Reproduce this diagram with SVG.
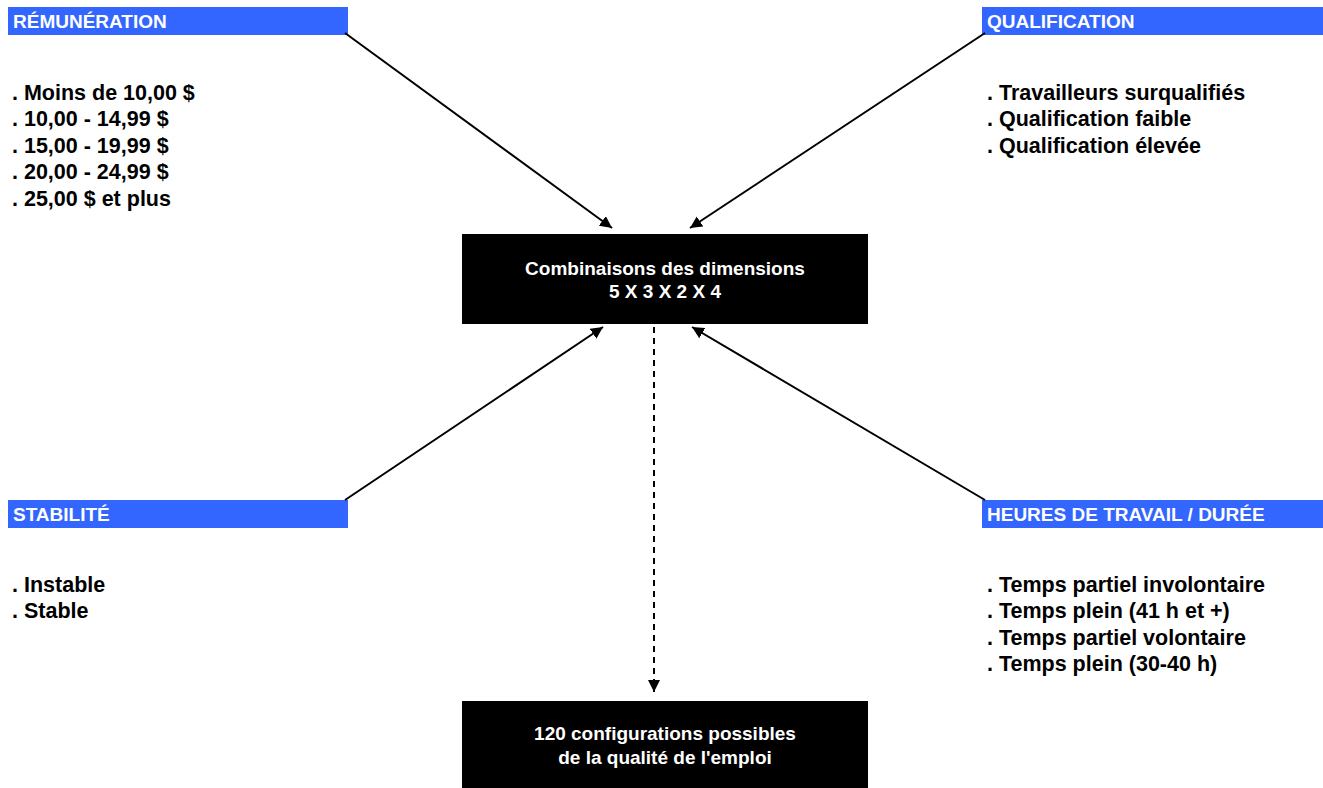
<svg xmlns="http://www.w3.org/2000/svg" width="1323" height="788" viewBox="0 0 1323 788">
<style>
.hdr{fill:#3366ff}
.ht{font-family:"Liberation Sans",Arial,sans-serif;font-weight:bold;font-size:19px;fill:#fff}
.it{font-family:"Liberation Sans",Arial,sans-serif;font-weight:bold;font-size:21.5px;fill:#000}
.bx{fill:#000}
.bt{font-family:"Liberation Sans",Arial,sans-serif;font-weight:bold;font-size:19px;fill:#fff;text-anchor:middle}
.ar{stroke:#000;stroke-width:2;fill:none}
</style>
<defs>
<marker id="ahb" viewBox="0 0 10 10" refX="10" refY="5" markerWidth="12" markerHeight="12" orient="auto" markerUnits="userSpaceOnUse">
<path d="M0,0 L10,5 L0,10 z" fill="#000"/>
</marker>
</defs>
<rect width="1323" height="788" fill="#fff"/>
<g id="remuneration">
<rect class="hdr" x="8" y="7" width="340" height="28"/>
<text class="ht" x="13" y="27.5">RÉMUNÉRATION</text>
<text class="it" x="12" y="99.5">. Moins de 10,00 $</text>
<text class="it" x="12" y="126">. 10,00 - 14,99 $</text>
<text class="it" x="12" y="152.5">. 15,00 - 19,99 $</text>
<text class="it" x="12" y="179">. 20,00 - 24,99 $</text>
<text class="it" x="12" y="205.5">. 25,00 $ et plus</text>
</g>
<g id="qualification">
<rect class="hdr" x="982" y="7" width="341" height="28"/>
<text class="ht" x="987" y="27.5">QUALIFICATION</text>
<text class="it" x="987" y="99.5">. Travailleurs surqualifiés</text>
<text class="it" x="987" y="126">. Qualification faible</text>
<text class="it" x="987" y="152.5">. Qualification élevée</text>
</g>
<g id="stabilite">
<rect class="hdr" x="8" y="500" width="340" height="28"/>
<text class="ht" x="13" y="521">STABILITÉ</text>
<text class="it" x="12" y="591.5">. Instable</text>
<text class="it" x="12" y="618">. Stable</text>
</g>
<g id="heures">
<rect class="hdr" x="982" y="500" width="341" height="28"/>
<text class="ht" x="987" y="521">HEURES DE TRAVAIL / DURÉE</text>
<text class="it" x="987" y="591.5">. Temps partiel involontaire</text>
<text class="it" x="987" y="618">. Temps plein (41 h et +)</text>
<text class="it" x="987" y="644.5">. Temps partiel volontaire</text>
<text class="it" x="987" y="671">. Temps plein (30-40 h)</text>
</g>
<g id="combinaisons">
<rect class="bx" x="462" y="234" width="406" height="90"/>
<text class="bt" x="665" y="275">Combinaisons des dimensions</text>
<text class="bt" x="665" y="298">5 X 3 X 2 X 4</text>
</g>
<g id="configurations">
<rect class="bx" x="462" y="701" width="406" height="87"/>
<text class="bt" x="665" y="740">120 configurations possibles</text>
<text class="bt" x="665" y="764">de la qualité de l'emploi</text>
</g>
<g id="connectors">
<line class="ar" x1="345" y1="33" x2="612" y2="228" marker-end="url(#ahb)"/>
<line class="ar" x1="985" y1="33" x2="690" y2="228" marker-end="url(#ahb)"/>
<line class="ar" x1="345" y1="500" x2="603" y2="327" marker-end="url(#ahb)"/>
<line class="ar" x1="985" y1="500" x2="692" y2="327" marker-end="url(#ahb)"/>
<line class="ar" x1="654" y1="327" x2="654" y2="692" stroke-dasharray="6,5" marker-end="url(#ahb)"/>
</g>
</svg>
